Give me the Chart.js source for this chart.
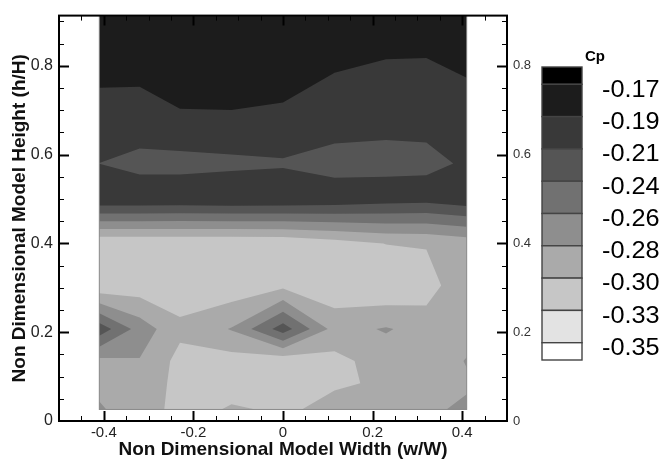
<!DOCTYPE html>
<html><head><meta charset="utf-8">
<script src="https://cdn.jsdelivr.net/npm/chart.js@4.4.1/dist/chart.umd.min.js"></script>
<style>html,body{margin:0;padding:0;background:#fff}canvas{display:block}</style>
</head><body>
<canvas id="c" width="664" height="464"></canvas>
<script>
// ---- data ----
const W_NODES = [-0.41, -0.32, -0.23, -0.115, 0, 0.115, 0.23, 0.32, 0.41];
const H_NODES = [0.026, 0.085, 0.135, 0.207, 0.305, 0.40, 0.50, 0.58, 0.68, 0.913];
const CP_H0026 = [-0.2805, -0.292, -0.3133, -0.303, -0.3073, -0.301, -0.287, -0.286, -0.279];
const CP_H0085 = [-0.287, -0.290, -0.312, -0.313, -0.314, -0.3065, -0.3035, -0.290, -0.285];
const CP_H0135 = [-0.2888, -0.2839, -0.3118, -0.3145, -0.320, -0.3112, -0.2953, -0.294, -0.2815];
const CP_H0207 = [-0.224, -0.2696, -0.300, -0.2811, -0.226, -0.291, -0.2805, -0.2913, -0.290];
const CP_H0305 = [-0.3222, -0.3178, -0.318, -0.3195, -0.3108, -0.3202, -0.325, -0.3166, -0.285];
const CP_H0400 = [-0.324, -0.324, -0.324, -0.324, -0.323, -0.3141, -0.3045, -0.303, -0.296];
const CP_H0500 = [-0.196, -0.196, -0.197, -0.1954, -0.1961, -0.1998, -0.205, -0.207, -0.200];
const CP_H0580 = [-0.2152, -0.2236, -0.2232, -0.2203, -0.2177, -0.2251, -0.2210, -0.219, -0.213];
const CP_H0680 = [-0.1979, -0.1982, -0.1939, -0.1937, -0.1949, -0.2026, -0.2097, -0.2105, -0.2008];
const CP_H0913 = [-0.18, -0.18, -0.18, -0.18, -0.18, -0.18, -0.18, -0.18, -0.18];
const CP_LEVELS = [-0.35, -0.3275, -0.305, -0.2825, -0.26, -0.2375, -0.215, -0.1925, -0.17];
const LEVEL_LABELS = ['-0.35', '-0.33', '-0.30', '-0.28', '-0.26', '-0.24', '-0.21', '-0.19', '-0.17'];
const X_TICKS = [-0.4, -0.2, 0, 0.2, 0.4];
const X_TICK_LABELS = ['-0.4', '-0.2', '0', '0.2', '0.4'];
const Y_TICKS = [0, 0.2, 0.4, 0.6, 0.8];
const Y_TICK_LABELS = ['0', '0.2', '0.4', '0.6', '0.8'];

// ---- styles ----
const BAND_COLORS = ['#ffffff', '#e3e3e3', '#c6c6c6', '#aaaaaa', '#8e8e8e', '#717171', '#555555', '#393939', '#1c1c1c', '#000000'];
const FONT = "'Liberation Sans', Arial, sans-serif";
const CP_GRID = [CP_H0026, CP_H0085, CP_H0135, CP_H0207, CP_H0305, CP_H0400, CP_H0500, CP_H0580, CP_H0680, CP_H0913];

function clipAbove(poly, level) {
  const out = [];
  for (let i = 0; i < poly.length; i++) {
    const a = poly[i], b = poly[(i + 1) % poly.length];
    const ina = a.v >= level, inb = b.v >= level;
    if (ina) out.push(a);
    if (ina !== inb) {
      const t = (level - a.v) / (b.v - a.v);
      out.push({x: a.x + t * (b.x - a.x), y: a.y + t * (b.y - a.y), v: level});
    }
  }
  return out;
}

const contourPlugin = {
  id: 'contour',
  beforeDatasetsDraw(chart) {
    const ctx = chart.ctx, xs = chart.scales.x, ys = chart.scales.y, ca = chart.chartArea;
    ctx.save();
    ctx.beginPath(); ctx.rect(ca.left, ca.top, ca.right - ca.left, ca.bottom - ca.top); ctx.clip();
    const cells = [];
    for (let j = 0; j < H_NODES.length - 1; j++) {
      for (let i = 0; i < W_NODES.length - 1; i++) {
        cells.push([
          {x: W_NODES[i], y: H_NODES[j], v: CP_GRID[j][i]},
          {x: W_NODES[i + 1], y: H_NODES[j], v: CP_GRID[j][i + 1]},
          {x: W_NODES[i + 1], y: H_NODES[j + 1], v: CP_GRID[j + 1][i + 1]},
          {x: W_NODES[i], y: H_NODES[j + 1], v: CP_GRID[j + 1][i]}
        ]);
      }
    }
    for (let k = -1; k < CP_LEVELS.length; k++) {
      ctx.beginPath();
      for (const cell of cells) {
        const poly = k < 0 ? cell : clipAbove(cell, CP_LEVELS[k]);
        if (poly.length < 3) continue;
        poly.forEach((p, n) => {
          const px = xs.getPixelForValue(p.x), py = ys.getPixelForValue(p.y);
          if (n === 0) ctx.moveTo(px, py); else ctx.lineTo(px, py);
        });
        ctx.closePath();
      }
      ctx.fillStyle = BAND_COLORS[k + 1];
      ctx.fill();
    }
    const x0 = xs.getPixelForValue(W_NODES[0]), x1 = xs.getPixelForValue(W_NODES[W_NODES.length - 1]);
    const y0 = ys.getPixelForValue(H_NODES[0]), y1 = ys.getPixelForValue(H_NODES[H_NODES.length - 1]);
    ctx.strokeStyle = '#8a8a8a'; ctx.lineWidth = 1;
    ctx.strokeRect(x0, y1, x1 - x0, y0 - y1);
    ctx.restore();
  }
};

const framePlugin = {
  id: 'frame',
  afterDraw(chart) {
    const ctx = chart.ctx, xs = chart.scales.x, ys = chart.scales.y, ca = chart.chartArea;
    ctx.save();
    ctx.strokeStyle = '#000';
    const isMajor = (v, arr) => arr.some(t => Math.abs(t - v) < 1e-6);
    for (let n = -9; n <= 9; n++) {
      const v = n * 0.05;
      const px = Math.round(xs.getPixelForValue(v)) + 0.5;
      const maj = isMajor(v, X_TICKS), len = maj ? 10 : 5;
      ctx.lineWidth = maj ? 2 : 1;
      ctx.beginPath();
      ctx.moveTo(px, ca.bottom); ctx.lineTo(px, ca.bottom - len);
      ctx.moveTo(px, ca.top); ctx.lineTo(px, ca.top + len);
      ctx.stroke();
    }
    for (let n = 1; n * 0.05 < ys.max - 0.001; n++) {
      const v = n * 0.05;
      const py = Math.round(ys.getPixelForValue(v)) + 0.5;
      const maj = isMajor(v, Y_TICKS), len = maj ? 10 : 5;
      ctx.lineWidth = maj ? 2 : 1;
      ctx.beginPath();
      ctx.moveTo(ca.left, py); ctx.lineTo(ca.left + len, py);
      ctx.moveTo(ca.right, py); ctx.lineTo(ca.right - len, py);
      ctx.stroke();
    }
    ctx.lineWidth = 2;
    ctx.strokeRect(ca.left, ca.top, ca.right - ca.left, ca.bottom - ca.top);
    ctx.restore();
  }
};

const colorbarPlugin = {
  id: 'colorbar',
  afterDraw(chart) {
    const ctx = chart.ctx;
    const left = 542, width = 40, top = 67, half = 17.3, full = 32.3;
    const n = CP_LEVELS.length;
    ctx.save();
    let y = top;
    for (let b = n; b >= 0; b--) {
      const h = (b === n || b === 0) ? half : full;
      ctx.fillStyle = BAND_COLORS[b];
      ctx.fillRect(left, y, width, h);
      ctx.strokeStyle = '#444'; ctx.lineWidth = 1.4;
      ctx.strokeRect(left, y, width, h);
      y += h;
    }
    ctx.fillStyle = '#000';
    ctx.textAlign = 'left'; ctx.textBaseline = 'middle';
    ctx.font = '23px ' + FONT;
    for (let k = 0; k < n; k++) {
      const by = top + half + (n - 1 - k) * full;
      ctx.save();
      ctx.translate(602, by + 6);
      ctx.scale(1.1, 1);
      ctx.fillText(LEVEL_LABELS[k], 0, 0);
      ctx.restore();
    }
    ctx.font = 'bold 15px ' + FONT;
    ctx.fillText('Cp', 585, 57);
    ctx.restore();
  }
};

const nodes = [];
H_NODES.forEach((h, j) => W_NODES.forEach((w, i) => nodes.push({x: w, y: h, cp: CP_GRID[j][i]})));

const labelFor = (v, ticks, labels) => {
  const i = ticks.findIndex(t => Math.abs(t - v) < 1e-6);
  return i >= 0 ? labels[i] : '';
};

new Chart(document.getElementById('c'), {
  type: 'scatter',
  data: {datasets: [{data: nodes, pointRadius: 0, pointHoverRadius: 0, showLine: false}]},
  options: {
    responsive: false, animation: false, devicePixelRatio: 1, events: [],
    layout: {padding: {top: 8, left: 0, right: 0, bottom: 0}},
    plugins: {legend: {display: false}, tooltip: {enabled: false}},
    scales: {
      x: {
        type: 'linear', position: 'bottom', min: -0.5, max: 0.5,
        afterBuildTicks: s => { s.ticks = X_TICKS.map(v => ({value: v})); },
        ticks: {callback: v => labelFor(v, X_TICKS, X_TICK_LABELS), font: {family: FONT, size: 15}, color: '#222', padding: 3, maxRotation: 0, autoSkip: false},
        grid: {display: false, drawTicks: false}, border: {display: false},
        title: {display: true, text: 'Non Dimensional Model Width (w/W)', font: {family: FONT, size: 19, weight: 'bold'}, color: '#111', padding: {top: 0, bottom: 3}},
        afterFit: s => { s.height = 43; }
      },
      y: {
        type: 'linear', position: 'left', min: 0, max: 0.913,
        afterBuildTicks: s => { s.ticks = Y_TICKS.map(v => ({value: v})); },
        ticks: {callback: v => labelFor(v, Y_TICKS, Y_TICK_LABELS), font: {family: FONT, size: 16}, color: '#222', padding: 6, autoSkip: false},
        grid: {display: false, drawTicks: false}, border: {display: false},
        title: {display: true, text: 'Non Dimensional Model Height (h/H)', font: {family: FONT, size: 19, weight: 'bold'}, color: '#111', padding: {top: 8, bottom: 0}},
        afterFit: s => { s.width = 59; }
      },
      y2: {
        type: 'linear', position: 'right', min: 0, max: 0.913,
        afterBuildTicks: s => { s.ticks = Y_TICKS.map(v => ({value: v})); },
        ticks: {callback: v => labelFor(v, Y_TICKS, Y_TICK_LABELS), font: {family: FONT, size: 13}, color: '#333', padding: 6, autoSkip: false},
        grid: {display: false, drawTicks: false}, border: {display: false},
        afterFit: s => { s.width = 157; }
      }
    }
  },
  plugins: [contourPlugin, framePlugin, colorbarPlugin]
});
</script>
</body></html>
